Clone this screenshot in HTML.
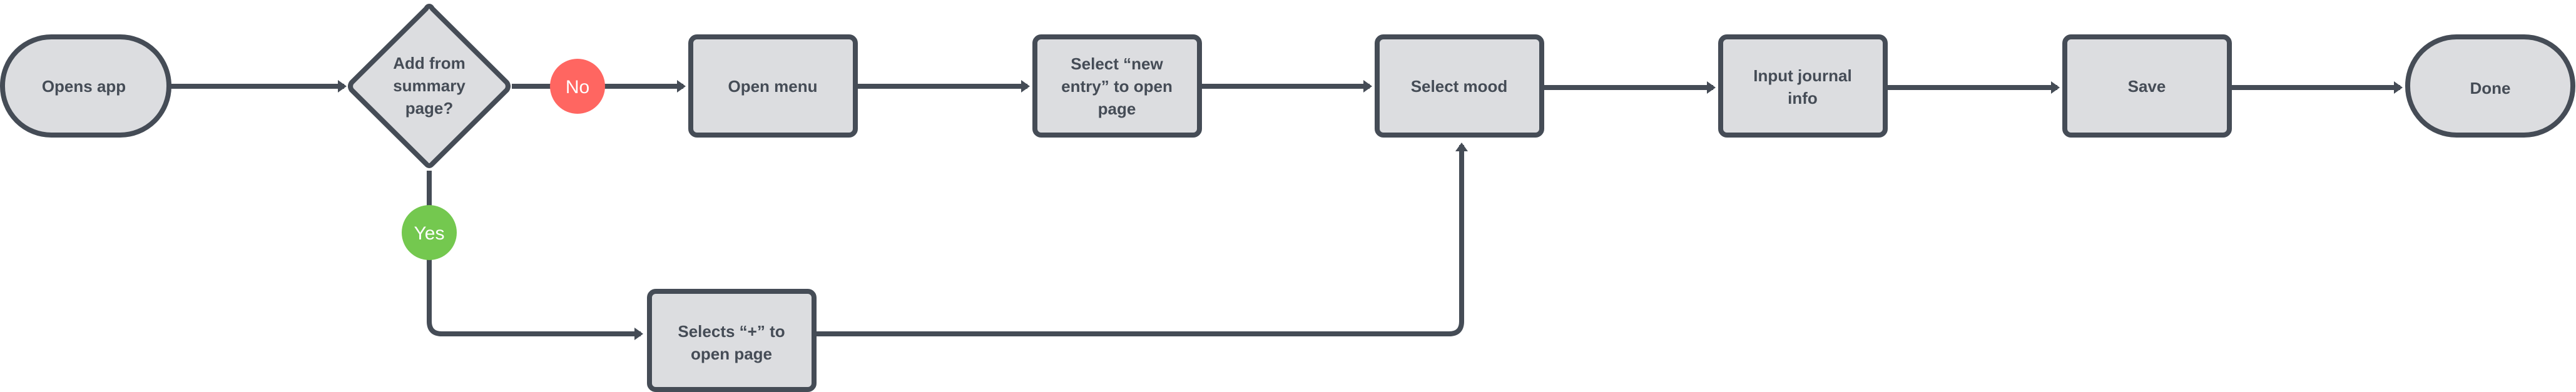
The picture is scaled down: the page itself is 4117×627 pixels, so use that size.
<!DOCTYPE html>
<html><head><meta charset="utf-8"><style>
html,body{margin:0;padding:0;background:#fff;}
svg{display:block;}
text{font-family:"Liberation Sans",sans-serif;font-weight:bold;fill:#454c56;font-size:26px;text-anchor:middle;}
.w{fill:#fff;font-weight:normal;font-size:30px;}
</style></head><body>
<svg width="4117" height="627" viewBox="0 0 4117 627" xmlns="http://www.w3.org/2000/svg">
<defs>
<marker id="a" markerWidth="14" markerHeight="20" refX="10" refY="10" orient="auto" markerUnits="userSpaceOnUse">
<path d="M0,0 L14,10 L0,20 z" fill="#454c56"/>
</marker>
</defs>
<g stroke="#454c56" stroke-width="8" fill="none">
<line x1="272" y1="138" x2="550" y2="138" marker-end="url(#a)"/>
<line x1="818" y1="138" x2="1092" y2="138" marker-end="url(#a)"/>
<line x1="1371" y1="138" x2="1642" y2="138" marker-end="url(#a)"/>
<line x1="1920" y1="138" x2="2189" y2="138" marker-end="url(#a)"/>
<line x1="2468" y1="140" x2="2738" y2="140" marker-end="url(#a)"/>
<line x1="3017" y1="140" x2="3288" y2="140" marker-end="url(#a)"/>
<line x1="3566" y1="140" x2="3836" y2="140" marker-end="url(#a)"/>
<path d="M686 273 L686 514 Q686 534 706 534 L1024 534" marker-end="url(#a)"/>
<path d="M1305 534 L2316 534 Q2336 534 2336 514 L2336 232" marker-end="url(#a)"/>
</g>
<g stroke="#454c56" stroke-width="8" fill="#dcdde0">
<rect x="4" y="59" width="266" height="157" rx="78" ry="78"/>
<path d="M686 10 Q689 10 691 14 L810 132 Q814 138 810 144 L691 262 Q686 268 681 262 L562 144 Q558 138 562 132 L681 14 Q683 10 686 10 z"/>
<rect x="1104" y="59" width="263" height="157" rx="10"/>
<rect x="1654" y="59" width="263" height="157" rx="10"/>
<rect x="2201" y="59" width="263" height="157" rx="10"/>
<rect x="2750" y="59" width="263" height="157" rx="10"/>
<rect x="3300" y="59" width="263" height="157" rx="10"/>
<rect x="3848" y="59" width="264" height="157" rx="78" ry="78"/>
<rect x="1038" y="466" width="263" height="157" rx="10"/>
</g>
<circle cx="923" cy="138" r="44" fill="#ff6661"/>
<circle cx="686" cy="372" r="44" fill="#74c84f"/>
<text class="w" x="923" y="149">No</text>
<text class="w" x="686" y="383">Yes</text>
<text x="134" y="147">Opens app</text>
<text x="686" y="110">Add from</text>
<text x="686" y="146">summary</text>
<text x="686" y="182">page?</text>
<text x="1235" y="147">Open menu</text>
<text x="1785" y="111">Select “new</text>
<text x="1785" y="147">entry” to open</text>
<text x="1785" y="183">page</text>
<text x="2332" y="147">Select mood</text>
<text x="2881" y="130">Input journal</text>
<text x="2881" y="166">info</text>
<text x="3431" y="147">Save</text>
<text x="3980" y="150">Done</text>
<text x="1169" y="539">Selects “+” to</text>
<text x="1169" y="575">open page</text>
</svg>
</body></html>
